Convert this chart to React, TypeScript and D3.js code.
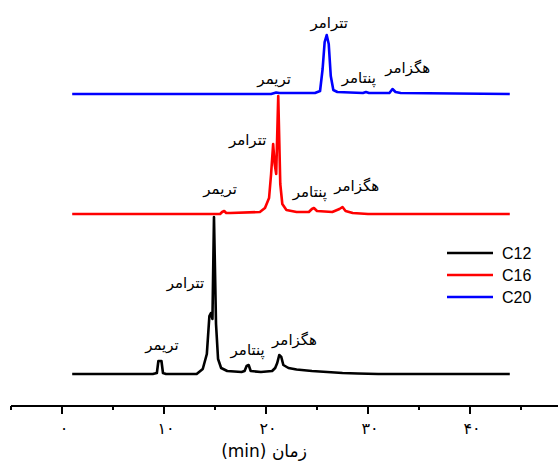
import React from 'react';
import * as d3 from 'd3';

// chromatogram key points: [time (min), signal]
const c12Points: [number, number][] = [
  [1.0, 0], [8.9, 0], [9.3, 1], [9.45, 13], [9.75, 13], [9.9, 1], [10.2, 0],
  [13.2, 0], [13.8, 5], [14.2, 20], [14.45, 58], [14.6, 61], [14.75, 55], [14.9, 157],
  [15.1, 50], [15.3, 15], [15.6, 6], [16.2, 3], [17.6, 2], [17.9, 3], [18.1, 8],
  [18.3, 9], [18.5, 3], [19.5, 2], [20.6, 3], [20.9, 6], [21.1, 11], [21.3, 19],
  [21.5, 17], [21.7, 9], [22.2, 6], [23, 4.5], [24.5, 3], [26, 2], [27.5, 1],
  [29, 0.5], [31, 0], [43.9, 0],
];
const c16Points: [number, number][] = [
  [1.0, 0], [15.5, 0], [15.7, 2], [15.9, 3], [16.1, 1], [16.5, 1], [19.4, 2],
  [19.9, 6], [20.3, 16], [20.5, 40], [20.7, 70], [20.85, 50], [21.0, 40], [21.2, 118],
  [21.4, 30], [21.6, 10], [22, 4], [23, 2], [24.2, 2], [24.5, 5], [24.7, 6], [25, 3],
  [26.5, 2], [27.2, 5], [27.5, 7], [27.8, 3], [28.5, 1], [30, 0], [43.9, 0],
];
const c20Points: [number, number][] = [
  [1.0, 0], [20.5, 0], [21.0, 1.5], [21.3, 1], [24.8, 1], [25.3, 3], [25.55, 25],
  [25.75, 52], [25.95, 59], [26.15, 50], [26.35, 18], [26.6, 4], [27, 2], [29.5, 1],
  [29.8, 2], [30.1, 1], [32.1, 1], [32.4, 5], [32.7, 2], [33.2, 1], [43.9, 0],
];

const seriesNames = ['C12', 'C16', 'C20'];
const seriesColors = ['#000000', '#ff0000', '#0000ff'];
const seriesOffsets = [0, 160, 280];
const seriesData = [c12Points, c16Points, c20Points];

// peak labels: [time, signal above the series baseline]
const peakNames = ['تریمر', 'تترامر', 'پنتامر', 'هگزامر'];
const c12Labels: [number, number][] = [[9.8, 24], [12.1, 86], [18.2, 19], [22.8, 29]];
const c16Labels: [number, number][] = [[15.5, 20], [18.2, 69], [24.3, 17], [28.9, 23]];
const c20Labels: [number, number][] = [[20.8, 10], [26.2, 66], [29.1, 11], [33.9, 21]];
const labelSets = [c12Labels, c16Labels, c20Labels];

const majorTicks = [0, 10, 20, 30, 40];
const tickLabels = ['۰', '۱۰', '۲۰', '۳۰', '۴۰'];
const minorTicks = [-5, 5, 15, 25, 35, 45];

const W = 558;
const H = 466;
const persianFont = '"DejaVu Sans", sans-serif';

export default function App() {
  const x = d3.scaleLinear().domain([-5, 50]).range([11, 572]);
  const y = d3.scaleLinear().domain([0, 374]).range([374, 0]);
  const axisY = 406;

  const lineFor = (offset: number) =>
    d3.line<[number, number]>()
      .x(d => x(d[0]))
      .y(d => y(d[1] + offset));

  return (
    <svg width={W} height={H} style={{ position: 'absolute', left: 0, top: 0, background: '#fff' }}>
      {seriesData.map((pts, i) => (
        <path key={seriesNames[i]} d={lineFor(seriesOffsets[i])(pts) || ''}
          fill="none" stroke={seriesColors[i]} strokeWidth={2.6} strokeLinejoin="round" />
      ))}

      {labelSets.map((set, i) =>
        set.map((p, j) => (
          <text key={`${i}-${j}`} x={x(p[0])} y={y(p[1] + seriesOffsets[i])}
            textAnchor="middle" fontFamily={persianFont} fontSize={15} fill="#000">
            {peakNames[j]}
          </text>
        ))
      )}

      {/* x axis */}
      <line x1={11} x2={W} y1={axisY} y2={axisY} stroke="#000" strokeWidth={2.2} />
      {majorTicks.map(t => (
        <line key={`M${t}`} x1={x(t)} x2={x(t)} y1={axisY} y2={axisY + 8} stroke="#000" strokeWidth={2} />
      ))}
      {minorTicks.map(t => (
        <line key={`m${t}`} x1={x(t)} x2={x(t)} y1={axisY} y2={axisY + 4} stroke="#000" strokeWidth={2} />
      ))}
      {majorTicks.map((t, i) => (
        <text key={`l${t}`} x={x(t) + 2} y={434} textAnchor="middle" fontFamily={persianFont} fontSize={16}>
          {tickLabels[i]}
        </text>
      ))}
      <text x={264} y={457} textAnchor="middle" fontFamily={persianFont} fontSize={17}>
        (min) زمان
      </text>

      {/* legend */}
      {seriesNames.map((name, i) => (
        <g key={name} transform={`translate(447, ${253 + i * 22})`}>
          <line x1={0} x2={46} y1={0} y2={0} stroke={seriesColors[i]} strokeWidth={2.6} />
          <text x={55} y={6} fontFamily='"Liberation Sans", Arial, sans-serif' fontSize={16}>{name}</text>
        </g>
      ))}
    </svg>
  );
}
